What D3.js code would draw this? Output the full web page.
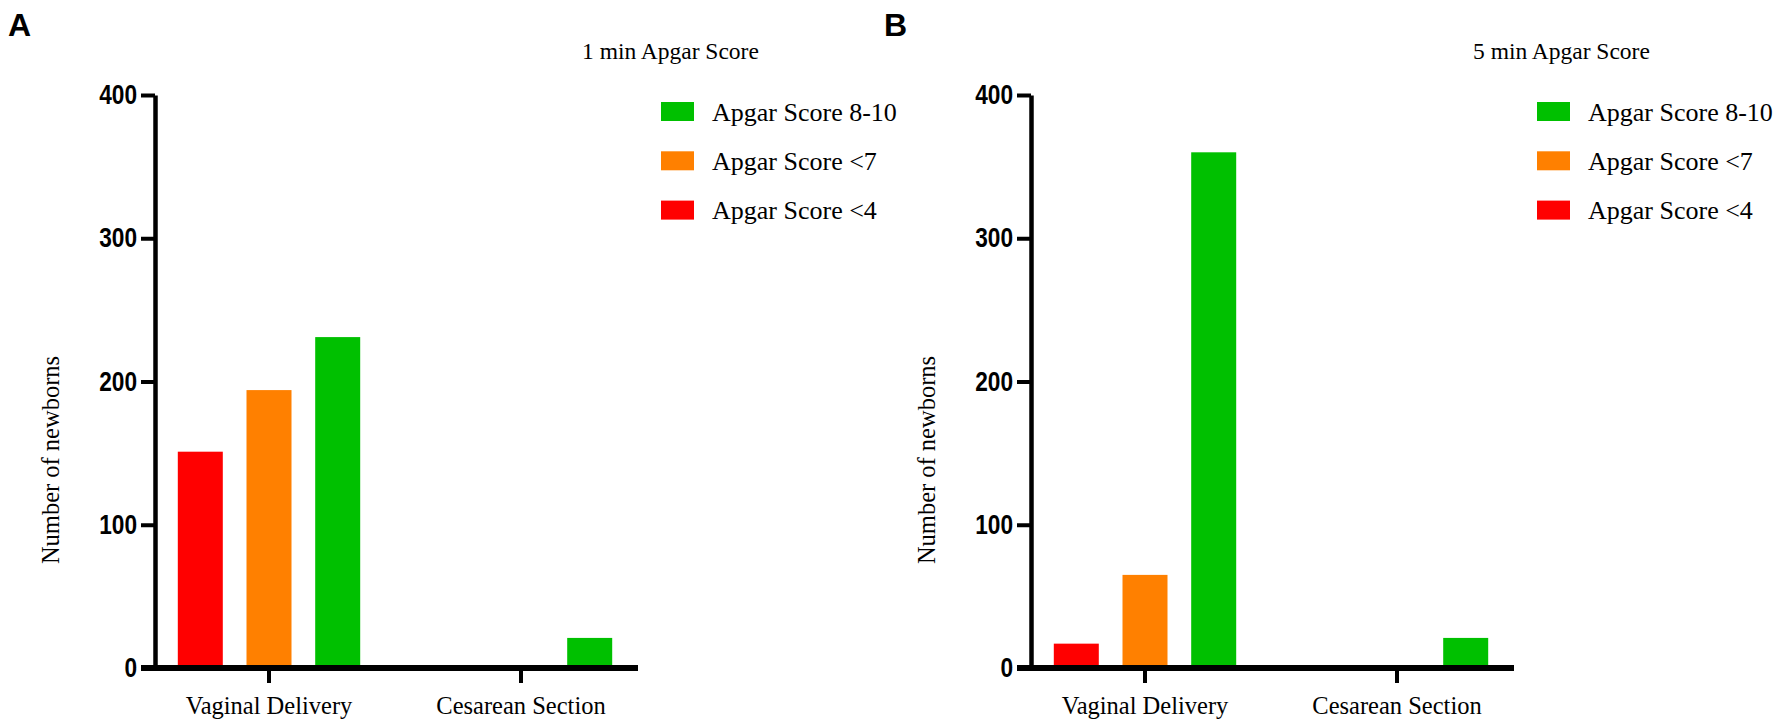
<!DOCTYPE html>
<html>
<head>
<meta charset="utf-8">
<script src="https://cdn.jsdelivr.net/npm/d3@7"></script>
<style>
	body { margin: 0; background: #fff; }
	.serif { font-family: "Liberation Serif", "Times New Roman", serif; fill: #000; }
	.tickLab { font-family: "Liberation Sans", Arial, sans-serif; font-weight: bold; font-size: 27px; }
	.panelTag { font-family: "Liberation Sans", Arial, sans-serif; font-weight: bold; font-size: 32px; }
</style>
</head>
<body>
<div id="chart"></div>
<script>
// data
var categories = ['Vaginal Delivery', 'Cesarean Section'];
var seriesNames = ['Apgar Score <4', 'Apgar Score <7', 'Apgar Score 8-10'];
var legendOrder = ['Apgar Score 8-10', 'Apgar Score <7', 'Apgar Score <4'];
var seriesColors = ['#ff0000', '#ff8000', '#00c000'];
var yTicks = [0, 100, 200, 300, 400];

// 1 min scores
var oneMinLt4 = [151, 0],
	oneMinLt7 = [194, 0],
	oneMinHigh = [231, 21];

// 5 min scores
var fiveMinLt4 = [17, 0],
	fiveMinLt7 = [65, 0],
	fiveMinHigh = [360, 21];

var svgWidth = 1775,
	svgHeight = 721;

var svg = d3.select('#chart')
	.append('svg')
	.attr('width', svgWidth)
	.attr('height', svgHeight);

var panels = [
	{ tag: 'A', title: '1 min Apgar Score', values: [oneMinLt4, oneMinLt7, oneMinHigh], dx: 0, titleX: 582 },
	{ tag: 'B', title: '5 min Apgar Score', values: [fiveMinLt4, fiveMinLt7, fiveMinHigh], dx: 876, titleX: 597 }
];

var color = d3.scaleOrdinal().domain(seriesNames).range(seriesColors);

// shared scales (panel local coords)
var yScale = d3.scaleLinear().domain([0, 400]).range([668, 95]);
var xScale = d3.scaleBand().domain(categories).range([143, 647]);
var subScale = d3.scalePoint().domain(seriesNames).range([-68.7, 68.7]);
var barWidth = 45;
var squeeze = 0.84; // tick labels are a condensed face

panels.forEach(p => {
	var g = svg.append('g').attr('transform', `translate(${p.dx},0)`);

	// panel letter
	g.append('text')
		.classed('panelTag', true)
		.attr('x', 8)
		.attr('y', 36)
		.text(p.tag);

	// bars
	var rows = [];
	p.values.forEach((arr, si) => {
		arr.forEach((v, ci) => rows.push({ series: seriesNames[si], cat: categories[ci], value: v }));
	});

	g.append('g').selectAll('rect')
		.data(rows.filter(d => d.value > 0))
		.enter()
		.append('rect')
		.attr('x', d => xScale(d.cat) + xScale.bandwidth() / 2 + subScale(d.series) - barWidth / 2)
		.attr('y', d => yScale(d.value))
		.attr('width', barWidth)
		.attr('height', d => yScale(0) - yScale(d.value))
		.attr('fill', d => color(d.series));

	// y axis
	var yAxis = g.append('g')
		.attr('transform', 'translate(155,0)')
		.call(d3.axisLeft(yScale).tickValues(yTicks).tickSize(14).tickSizeOuter(0).tickPadding(4));
	yAxis.select('.domain').attr('stroke', '#000').attr('stroke-width', 4.5);
	yAxis.selectAll('.tick line').attr('stroke', '#000').attr('stroke-width', 4);
	yAxis.selectAll('.tick text')
		.attr('class', 'tickLab')
		.attr('fill', '#000')
		.attr('x', -18 / squeeze)
		.attr('transform', `scale(${squeeze},1)`);

	// x axis
	var xAxis = g.append('g')
		.attr('transform', 'translate(0,668)')
		.call(d3.axisBottom(xScale).tickSize(15).tickSizeOuter(0).tickPadding(8));
	xAxis.select('.domain').remove();
	xAxis.selectAll('.tick line').attr('stroke', '#000').attr('stroke-width', 4);
	xAxis.selectAll('.tick text')
		.attr('class', 'serif')
		.attr('dy', '0.95em')
		.style('font-size', '24.5px');
	xAxis.append('line')
		.attr('x1', 141)
		.attr('x2', 638)
		.attr('y1', 0)
		.attr('y2', 0)
		.attr('stroke', '#000')
		.attr('stroke-width', 6);

	// y label
	g.append('text')
		.classed('serif', true)
		.attr('transform', 'translate(59,460)rotate(-90)')
		.attr('text-anchor', 'middle')
		.style('font-size', '24.5px')
		.text('Number of newborns');

	// legend title
	g.append('text')
		.classed('serif', true)
		.attr('x', p.titleX)
		.attr('y', 59)
		.style('font-size', '23.5px')
		.text(p.title);

	// legend
	var legend = g.append('g').selectAll('g')
		.data(legendOrder)
		.enter()
		.append('g')
		.attr('transform', (d, i) => `translate(661,${102 + i * 49.3})`);
	legend.append('rect')
		.attr('width', 33)
		.attr('height', 19)
		.attr('fill', d => color(d));
	legend.append('text')
		.classed('serif', true)
		.attr('x', 51)
		.attr('y', 18.5)
		.style('font-size', '26px')
		.text(d => d);
});
</script>
</body>
</html>
